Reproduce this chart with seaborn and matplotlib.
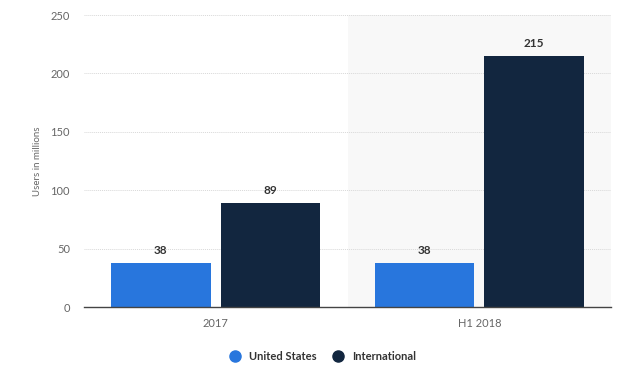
import matplotlib
matplotlib.use("Agg")
import matplotlib.pyplot as plt
from matplotlib.lines import Line2D
import seaborn as sns
import pandas as pd

categories = ["2017", "H1 2018"]
series = ["United States", "International"]
us_users = [38, 38]
intl_users = [89, 215]
colors = ["#2876dd", "#12263f"]

sns.set_theme(style="white")
plt.rcParams["font.family"] = ["Lato", "DejaVu Sans"]

df = pd.DataFrame({
    "period": categories * 2,
    "region": [series[0]] * 2 + [series[1]] * 2,
    "users": us_users + intl_users,
})

fig = plt.figure(figsize=(6.4, 3.75), dpi=100)
ax = fig.add_axes([0.131, 0.181, 0.824, 0.779])

ax.axvspan(0.5, 1.5, color="#f8f8f8", zorder=0, linewidth=0)
ax.set_yticks(range(0, 251, 50))
ax.yaxis.grid(True, color="#d8d8d8", linestyle=(0, (1, 1)), linewidth=0.7)
ax.set_axisbelow(True)

sns.barplot(data=df, x="period", y="users", hue="region", palette=colors,
            saturation=1, width=0.83, gap=0.09, linewidth=0,
            legend=False, ax=ax, zorder=2)

for cont in ax.containers:
    ax.bar_label(cont, padding=5, fontsize=8.5, fontweight="bold", color="#333333")

ax.set_xlim(-0.5, 1.5)
ax.set_ylim(0, 250)
ax.set_xlabel("")
ax.set_ylabel("Users in millions", fontsize=7, color="#666666", labelpad=6)
ax.tick_params(axis="both", labelsize=8, colors="#666666", length=0)
ax.tick_params(axis="x", pad=8)
ax.tick_params(axis="y", pad=10)
for s in ["top", "right", "left"]:
    ax.spines[s].set_visible(False)
ax.spines["bottom"].set_color("#444444")
ax.spines["bottom"].set_linewidth(1)

handles = [Line2D([], [], marker="o", linestyle="", markersize=8,
                  markerfacecolor=c, markeredgecolor=c) for c in colors]
fig.legend(handles, series, loc="center", bbox_to_anchor=(0.5, 0.05), ncol=2,
           frameon=False, handletextpad=0.2, columnspacing=1.0,
           prop={"size": 8, "weight": "bold"}, labelcolor="#333333")

fig.savefig("out.png", dpi=100)
